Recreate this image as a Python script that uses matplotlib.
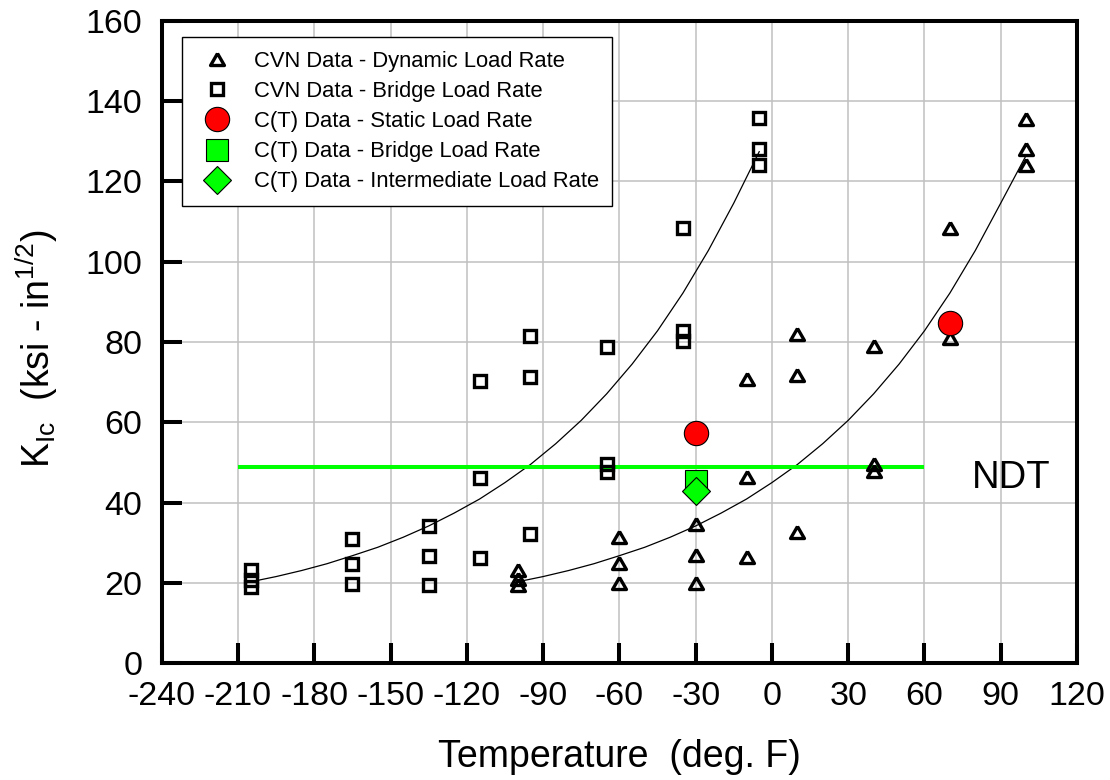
import matplotlib
matplotlib.use("Agg")
import matplotlib.pyplot as plt
from matplotlib.markers import MarkerStyle

plt.rcParams['font.family'] = ['Liberation Sans', 'DejaVu Sans']
plt.rcParams['mathtext.fontset'] = 'custom'
plt.rcParams['mathtext.rm'] = 'Liberation Sans'
plt.rcParams['mathtext.it'] = 'Liberation Sans:italic'
plt.rcParams['axes.unicode_minus'] = False

# CVN data - dynamic load rate (triangles)
cvn_dyn_T = [-100, -100, -100, -60, -60, -60, -30, -30, -30, -10, -10, -10,
             10, 10, 10, 40, 40, 40, 70, 70, 100, 100, 100]
cvn_dyn_K = [23.3, 21.0, 19.6, 31.4, 24.9, 20.1, 34.6, 27.0, 19.9, 70.7, 46.5, 26.4,
             82.0, 71.8, 32.6, 78.9, 49.6, 47.9, 108.5, 81.0, 135.5, 128.0, 124.1]

# CVN data - bridge load rate (squares)
cvn_bri_T = [-205, -205, -205, -165, -165, -165, -135, -135, -135, -115, -115, -115,
             -95, -95, -95, -65, -65, -65, -35, -35, -35, -5, -5, -5]
cvn_bri_K = [19.0, 20.7, 23.3, 19.7, 24.7, 31.0, 19.4, 26.6, 34.1, 26.1, 46.2, 70.3,
             32.1, 71.3, 81.5, 47.6, 49.6, 78.7, 80.3, 82.7, 108.5, 124.1, 128.0, 135.7]

# C(T) data
ct_static_T = [-30, 70]
ct_static_K = [57.4, 84.7]
ct_bridge_T = [-30]
ct_bridge_K = [45.3]
ct_inter_T = [-30]
ct_inter_K = [43.0]

# fitted curves
fit_bri_T = [-205, -195, -185, -175, -165, -155, -145, -135, -125, -115, -105,
             -95, -85, -75, -65, -55, -45, -35, -25, -15, -5]
fit_bri_K = [20.3, 21.6, 23.1, 24.8, 26.8, 28.9, 31.4, 34.2, 37.4, 40.9, 45.0,
             49.5, 54.7, 60.5, 67.1, 74.5, 82.8, 92.2, 102.8, 114.6, 127.4]
fit_dyn_T = [-100, -90, -80, -70, -60, -50, -40, -30, -20, -10, 0,
             10, 20, 30, 40, 50, 60, 70, 80, 90, 100]
fit_dyn_K = [20.3, 21.6, 23.1, 24.8, 26.8, 28.9, 31.4, 34.2, 37.4, 40.9, 45.0,
             49.5, 54.7, 60.5, 67.1, 74.5, 82.8, 92.2, 102.8, 114.6, 126.5]

# NDT line
ndt_T = [-210, 60]
ndt_K = [49.0, 49.0]

fig = plt.figure(figsize=(11.1, 7.8), dpi=100)
ax = fig.add_axes([0.1457, 0.1496, 0.8246, 0.8238])

tri = MarkerStyle([(0, 0.866), (-1, -0.866), (1, -0.866), (0, 0.866)], joinstyle='miter')

ax.plot(fit_bri_T, fit_bri_K, color='black', lw=0.9, zorder=3)
ax.plot(fit_dyn_T, fit_dyn_K, color='black', lw=0.9, zorder=3)
ax.plot(ndt_T, ndt_K, color='#00ff00', lw=2.9, solid_capstyle='butt', zorder=3)

ax.plot(cvn_dyn_T, cvn_dyn_K, ls='none', marker=tri, ms=10, mfc='none', mec='black',
        mew=2.4, zorder=4, label='CVN Data - Dynamic Load Rate')
ax.plot(cvn_bri_T, cvn_bri_K, ls='none', marker='s', ms=8.4, mfc='none', mec='black',
        mew=2.4, zorder=4, label='CVN Data - Bridge Load Rate')
ax.plot(ct_static_T, ct_static_K, ls='none', marker='o', ms=17.5, mfc='#ff0000', mec='black',
        mew=0.8, zorder=5, label='C(T) Data - Static Load Rate')
ax.plot(ct_bridge_T, ct_bridge_K, ls='none', marker='s', ms=15.5, mfc='#00ff00', mec='black',
        mew=0.8, zorder=5, label='C(T) Data - Bridge Load Rate')
ax.plot(ct_inter_T, ct_inter_K, ls='none', marker='D', ms=14.5, mfc='#00ff00', mec='black',
        mew=0.8, zorder=6, label='C(T) Data - Intermediate Load Rate')

ax.text(94, 43.6, 'NDT', fontsize=27.5, ha='center', va='baseline')

ax.set_xlim(-240, 120)
ax.set_ylim(0, 160)
ax.set_xticks(range(-240, 121, 30))
ax.set_yticks(range(0, 161, 20))
ax.grid(True, color='#c0c0c0', lw=1.1)
ax.set_axisbelow(True)

for s in ax.spines.values():
    s.set_linewidth(2.9)
ax.tick_params(axis='both', direction='in', length=14.4, width=2.9, labelsize=24.5)
ax.tick_params(axis='x', pad=13)
ax.tick_params(axis='y', pad=14)

ax.set_xlabel('Temperature  (deg. F)', fontsize=27)
ax.set_ylabel(r'$\mathrm{K}_{\mathrm{Ic}}$  (ksi - in$^{1/2}$)', fontsize=27)
ax.xaxis.set_label_coords(0.5, -0.118)
ax.yaxis.set_label_coords(-0.111, 0.49)

leg = ax.legend(loc='upper left', bbox_to_anchor=(0.0219, 0.974), borderaxespad=0,
                fontsize=15.8, numpoints=1, handlelength=2.0, handletextpad=0.7,
                borderpad=0.6, labelspacing=0.42, fancybox=False, framealpha=1)
leg.get_frame().set_edgecolor('black')
leg.get_frame().set_linewidth(1.0)

fig.savefig('out.png', dpi=100)
